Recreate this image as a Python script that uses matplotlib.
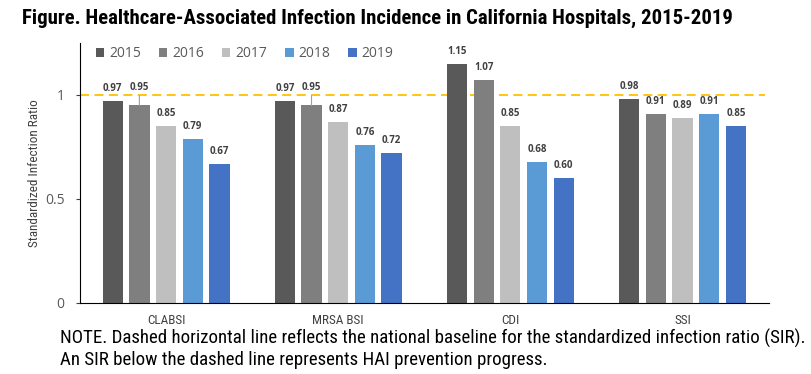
import numpy as np
import matplotlib.pyplot as plt
from matplotlib import font_manager

# ---------- data ----------
categories = ["CLABSI", "MRSA BSI", "CDI", "SSI"]
years = ["2015", "2016", "2017", "2018", "2019"]
sir_2015 = [0.97, 0.97, 1.15, 0.98]
sir_2016 = [0.95, 0.95, 1.07, 0.91]
sir_2017 = [0.85, 0.87, 0.85, 0.89]
sir_2018 = [0.79, 0.76, 0.68, 0.91]
sir_2019 = [0.67, 0.72, 0.60, 0.85]
baseline = 1.0

series = [sir_2015, sir_2016, sir_2017, sir_2018, sir_2019]
colors = ["#595959", "#7f7f7f", "#bfbfbf", "#5b9bd5", "#4472c4"]

# pick a condensed family if one is installed (reference uses Calibri)
installed = {f.name for f in font_manager.fontManager.ttflist}
narrow = "DejaVu Sans"
for cand in ["Liberation Sans Narrow", "Roboto Condensed", "DejaVu Sans Condensed", "Open Sans Condensed"]:
    if cand in installed:
        narrow = cand
        break
ui = "Open Sans" if "Open Sans" in installed else "DejaVu Sans"

fig = plt.figure(figsize=(8.12, 3.74), dpi=100)
ax = fig.add_axes([0.0985, 0.19, 0.848, 0.695])

x = np.arange(len(categories))
pitch = 0.155
width = 0.118
for i, (vals, col, yr) in enumerate(zip(series, colors, years)):
    pos = x + (i - 2) * pitch
    ax.bar(pos, vals, width=width, color=col, label=yr, zorder=2)
    for p, v in zip(pos, vals):
        # 2016 labels that would collide with the 2015 label get lifted with a leader line
        if i == 1 and abs(v - 0.95) < 1e-9:
            ax.annotate(f"{v:.2f}", xy=(p, v), xytext=(0, 9), textcoords="offset points",
                        ha="center", va="bottom", fontsize=7, fontweight="bold",
                        family=ui, color="#404040",
                        arrowprops=dict(arrowstyle="-", color="#a0a0a0", lw=0.8,
                                        shrinkA=0, shrinkB=0))
        else:
            ax.annotate(f"{v:.2f}", xy=(p, v), xytext=(0, 5), textcoords="offset points",
                        ha="center", va="bottom", fontsize=7, fontweight="bold",
                        family=ui, color="#404040")

ax.axhline(baseline, color="#ffc000", linestyle=(0, (5, 3)), lw=1.3, zorder=1,
           xmin=0.0, xmax=0.995)

ax.set_xlim(-0.5, len(categories) - 0.5)
ax.set_ylim(0, 1.25)
ax.set_yticks([0, 0.5, 1])
ax.set_yticklabels(["0", "0.5", "1"], family=ui)
ax.set_xticks(x)
ax.set_xticklabels(categories, family=narrow, fontsize=9.5, color="#404040")
ax.tick_params(axis="x", length=0, pad=8)
ax.tick_params(axis="y", length=3, labelsize=10, labelcolor="#595959", color="#404040", pad=8)

for s in ["top", "right"]:
    ax.spines[s].set_visible(False)
ax.spines["left"].set_color("#000000")
ax.spines["bottom"].set_color("#000000")

ax.set_ylabel("Standardized Infection Ratio", family=narrow, fontsize=9.5,
              color="#404040", labelpad=3)

leg = ax.legend(loc="upper left", bbox_to_anchor=(0.005, 1.035), ncol=5, frameon=False,
                prop={"family": ui, "size": 10}, handlelength=0.6, handleheight=0.6,
                handletextpad=0.35, columnspacing=1.3)
for t in leg.get_texts():
    t.set_color("#595959")

title = fig.text(0.027, 0.952,
                 "Figure. Healthcare-Associated Infection Incidence in California Hospitals, 2015-2019",
                 family=narrow, fontsize=13, fontweight="bold", ha="left", va="center")
note1 = fig.text(0.074, 0.095,
                 "NOTE. Dashed horizontal line reflects the national baseline for the standardized infection ratio (SIR).",
                 family=narrow, fontsize=11.5, ha="left", va="center")
note2 = fig.text(0.074, 0.037, "An SIR below the dashed line represents HAI prevention progress.",
                 family=narrow, fontsize=11.5, ha="left", va="center")

# fit text widths to the reference's Calibri widths
renderer = fig.canvas.get_renderer()
for txt, target_px in [(title, 708), (note1, 746)]:
    w = txt.get_window_extent(renderer).width
    txt.set_fontsize(txt.get_fontsize() * target_px / w)
note2.set_fontsize(note1.get_fontsize())

fig.savefig("out.png", dpi=100)
